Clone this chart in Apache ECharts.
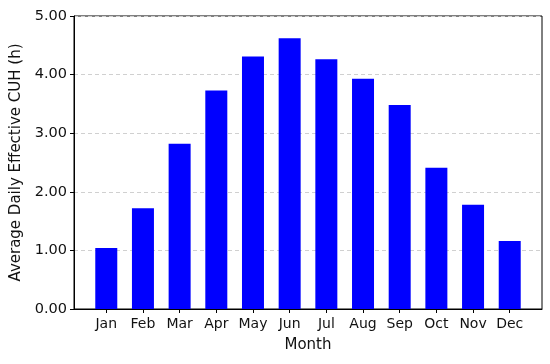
<!DOCTYPE html>
<html><head><meta charset="utf-8">
<script src="https://cdn.jsdelivr.net/npm/echarts@6/dist/echarts.min.js"></script>
<style>html,body{margin:0;padding:0;background:#fff}#c{width:550px;height:364px}</style>
</head><body><div id="c"></div>
<script>
const months = ['Jan','Feb','Mar','Apr','May','Jun','Jul','Aug','Sep','Oct','Nov','Dec'];
const cuh = [1.04, 1.72, 2.82, 3.73, 4.31, 4.62, 4.26, 3.93, 3.48, 2.41, 1.78, 1.16];
const yTicks = [0, 1, 2, 3, 4, 5];

const positions = months.map((m, i) => i);
const font = 'DejaVu Sans';
const txt = '#111';
const chart = echarts.init(document.getElementById('c'), null, {renderer: 'canvas'});
chart.setOption({
  animation: false,
  grid: {left: 74, top: 16, right: 8, bottom: 55, show: true, borderColor: '#000', borderWidth: 1, backgroundColor: 'transparent'},
  xAxis: {
    type: 'value', min: -0.88, max: 11.88,
    name: 'Month', nameLocation: 'middle', nameGap: 29,
    nameTextStyle: {fontFamily: font, fontSize: 15, color: txt},
    axisLine: {show: true, onZero: false, lineStyle: {color: '#000'}},
    axisTick: {show: true, length: 4, lineStyle: {color: '#000'}, customValues: positions},
    axisLabel: {fontFamily: font, fontSize: 14, color: txt, margin: 8, customValues: positions,
      formatter: v => months[Math.round(v)]},
    splitLine: {show: false}
  },
  yAxis: {
    type: 'value', min: yTicks[0], max: yTicks[yTicks.length - 1], interval: 1,
    name: 'Average Daily Effective CUH (h)', nameLocation: 'middle', nameGap: 49,
    nameTextStyle: {fontFamily: font, fontSize: 15, color: txt},
    axisLine: {show: true, onZero: false, lineStyle: {color: '#000'}},
    axisTick: {show: true, length: 4, lineStyle: {color: '#000'}},
    axisLabel: {fontFamily: font, fontSize: 14.5, color: txt, margin: 7,
      formatter: v => v.toFixed(2)},
    splitLine: {show: true, lineStyle: {color: '#d0d0d0', type: [4, 3], width: 1}}
  },
  series: [{
    type: 'bar',
    data: cuh.map((v, i) => [positions[i], v]),
    barWidth: 22,
    itemStyle: {color: '#0000ff'}
  }]
});
</script></body></html>
